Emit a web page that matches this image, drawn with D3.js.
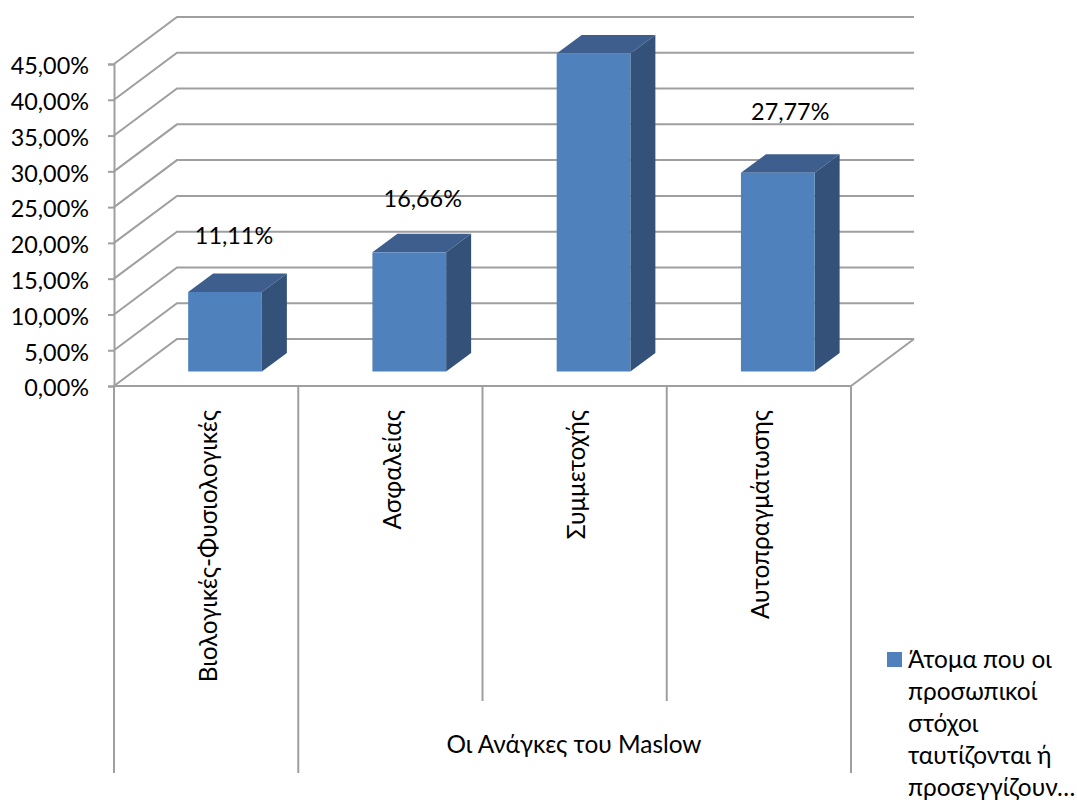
<!DOCTYPE html>
<html>
<head>
<meta charset="utf-8">
<script src="https://cdn.jsdelivr.net/npm/d3@7/dist/d3.min.js"></script>
<style>
  html, body { margin: 0; padding: 0; background: #fff; }
  svg { display: block; }
  text { font-family: Lato, "Noto Sans", sans-serif; fill: #000; }
</style>
</head>
<body>
<div id="chart"></div>
<script>
// data
var categories = ['Βιολογικές-Φυσιολογικές', 'Ασφαλείας', 'Συμμετοχής', 'Αυτοπραγμάτωσης'];
var values = [11.11, 16.66, 44.44, 27.77];
var valueLabels = ['11,11%', '16,66%', null, '27,77%'];
var yTicks = [0, 5, 10, 15, 20, 25, 30, 35, 40, 45];
var axisTitle = 'Οι Ανάγκες του Maslow';
var legendLines = ['Άτομα που οι', 'προσωπικοί', 'στόχοι', 'ταυτίζονται ή', 'προσεγγίζουν…'];

var width = 1077, height = 800;
var plotLeft = 114, plotRight = 851, plotBottom = 386, plotTop = 64;
var wallDx = 63, wallDy = 47;          // floor depth
var barDx = 25, barDy = 18.5;          // bar depth
var barShift = 18.9, barLift = 14.5;   // bar front face sits this far back
var gridColor = '#9f9f9f';
var fontSize = 24.4, numberSize = 23.4;
// the data labels were dragged by hand in the original, so each has its own nudge
var labelNudgeX = [9, 13.5, 0, 12.5];
var labelNudgeY = [-48, -45.5, 0, -53];

var svg = d3.select('#chart').append('svg')
  .attr('width', width)
  .attr('height', height);

var x = d3.scaleBand()
  .domain(categories)
  .range([plotLeft, plotRight])
  .paddingInner(0.6)
  .paddingOuter(0.3);

var y = d3.scaleLinear()
  .domain([0, 45])
  .range([plotBottom, plotTop]);

// walls
var walls = svg.append('g')
  .attr('fill', 'none')
  .attr('stroke', gridColor)
  .attr('stroke-width', 2);

walls.selectAll('path')
  .data(yTicks)
  .enter()
  .append('path')
  .attr('d', function(d) {
    return 'M' + plotLeft + ',' + y(d) + 'L' + (plotLeft + wallDx) + ',' + (y(d) - wallDy) + 'H' + (plotRight + wallDx);
  });

walls.append('path')
  .attr('d', 'M' + plotRight + ',' + plotBottom + 'L' + (plotRight + wallDx) + ',' + (plotBottom - wallDy));

// value axis
var yAxis = d3.axisLeft(y)
  .tickValues(yTicks)
  .tickSize(6)
  .tickPadding(19)
  .tickFormat(function(d) { return d + ',00%'; });

var yG = svg.append('g')
  .attr('transform', 'translate(' + plotLeft + ',0)')
  .call(yAxis);
yG.attr('font-family', null).attr('font-size', null);
yG.selectAll('path, line').attr('stroke', gridColor).attr('stroke-width', 2);
yG.selectAll('text').attr('font-size', numberSize).attr('fill', '#000').attr('dy', '0.42em');

// category axis: baseline and the multi level separators
var xAxisG = svg.append('g')
  .attr('stroke', gridColor)
  .attr('stroke-width', 2);

xAxisG.append('line')
  .attr('x1', plotLeft).attr('x2', plotRight)
  .attr('y1', plotBottom).attr('y2', plotBottom);

var step = x.step();
var separators = d3.range(categories.length + 1);
xAxisG.selectAll('.sep')
  .data(separators)
  .enter()
  .append('line')
  .attr('class', 'sep')
  .attr('x1', function(i) { return plotLeft + i * step; })
  .attr('x2', function(i) { return plotLeft + i * step; })
  .attr('y1', plotBottom)
  .attr('y2', function(i) { return (i === 2 || i === 3) ? 701 : 773; });

// bars
var bars = svg.selectAll('.bar')
  .data(categories.map(function(c, i) { return { cat: c, val: values[i], label: valueLabels[i], i: i }; }))
  .enter()
  .append('g')
  .attr('class', 'bar');

function bx(d) { return x(d.cat) + barShift; }
function by(d) { return y(d.val) - barLift; }
var base = y(0) - barLift;
var bw = x.bandwidth();

bars.append('path')
  .attr('fill', '#3e5f8e')
  .attr('d', function(d) {
    return 'M' + bx(d) + ',' + by(d) + 'l' + barDx + ',' + (-barDy) + 'h' + bw + 'l' + (-barDx) + ',' + barDy + 'Z';
  });

bars.append('path')
  .attr('fill', '#345279')
  .attr('d', function(d) {
    return 'M' + (bx(d) + bw) + ',' + by(d) + 'l' + barDx + ',' + (-barDy) + 'V' + (base - barDy) + 'L' + (bx(d) + bw) + ',' + base + 'Z';
  });

bars.append('rect')
  .attr('fill', '#4f81bd')
  .attr('x', bx)
  .attr('y', by)
  .attr('width', bw)
  .attr('height', function(d) { return base - by(d); });

bars.filter(function(d) { return d.label; })
  .append('text')
  .attr('x', function(d) { return bx(d) + bw / 2 + labelNudgeX[d.i]; })
  .attr('y', function(d) { return by(d) + labelNudgeY[d.i]; })
  .attr('text-anchor', 'middle')
  .attr('font-size', numberSize)
  .text(function(d) { return d.label; });

// category labels
svg.selectAll('.cat')
  .data(categories)
  .enter()
  .append('text')
  .attr('class', 'cat')
  .attr('text-anchor', 'end')
  .attr('font-size', fontSize)
  .attr('transform', function(c) {
    return 'translate(' + (x(c) + bw / 2 + 10.5) + ',410) rotate(-90)';
  })
  .text(function(c) { return c; });

svg.append('text')
  .attr('x', 574)
  .attr('y', 753)
  .attr('text-anchor', 'middle')
  .attr('font-size', fontSize)
  .text(axisTitle);

// legend
svg.append('rect')
  .attr('x', 887).attr('y', 652)
  .attr('width', 15).attr('height', 15)
  .attr('fill', '#4f81bd');

svg.selectAll('.legend')
  .data(legendLines)
  .enter()
  .append('text')
  .attr('class', 'legend')
  .attr('x', 908)
  .attr('y', function(d, i) { return 668 + i * 32; })
  .attr('font-size', fontSize)
  .text(function(d) { return d; });
</script>
</body>
</html>
